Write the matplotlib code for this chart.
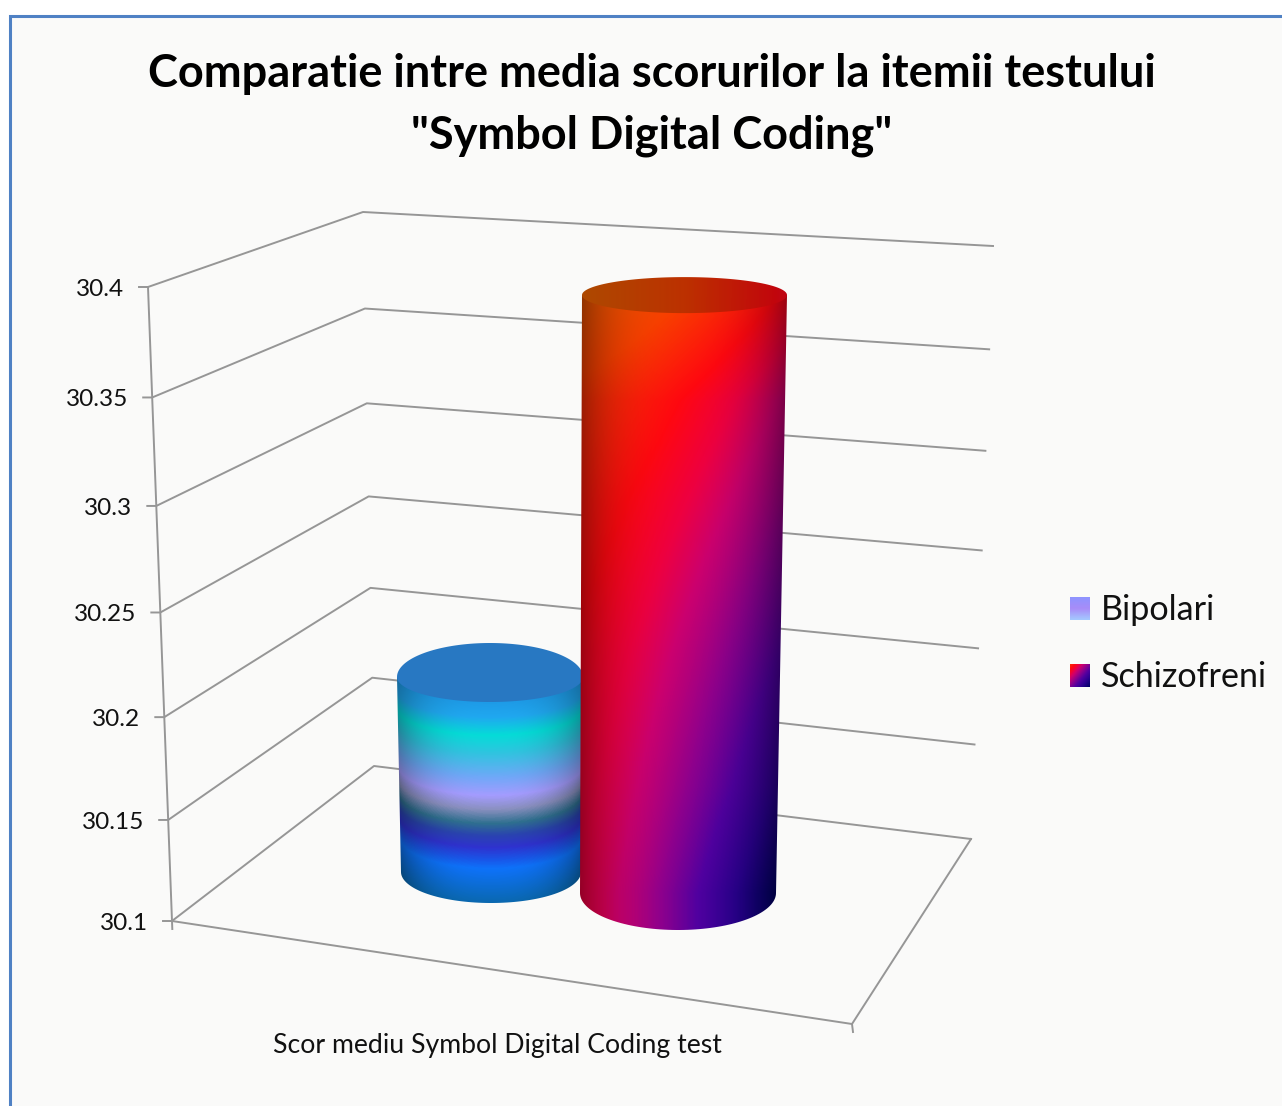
import numpy as np
import matplotlib
matplotlib.use("Agg")
import matplotlib.pyplot as plt
from matplotlib.colors import LinearSegmentedColormap
from matplotlib.patches import Rectangle, PathPatch
from matplotlib.path import Path

plt.rcParams["font.family"] = ["Lato", "DejaVu Sans"]

############### DATA ###############

tick_values = [30.4, 30.35, 30.3, 30.25, 30.2, 30.15, 30.1]
tick_labels = ["30.4", "30.35", "30.3", "30.25", "30.2", "30.15", "30.1"]
series_names = ["Bipolari", "Schizofreni"]
series_values = [30.2, 30.4]
category = "Scor mediu Symbol Digital Coding test"
title_lines = ["Comparatie intre media scorurilor la itemii testului", '"Symbol Digital Coding"']

############### LAYOUT (pixels) ###############

vmin, vmax = 30.1, 30.4
front_left = [(172, 921), (148, 287)]
back_left = [(374, 766), (363, 212)]
back_right = [(971, 839), (993, 246)]
front_right = (852, 1024)

# centre of the base, ellipse radii at base and lid, px per unit
bars = [
    dict(cx=491, cy=872, top_dx=-1, rx0=90, ry0=31, rx1=93, up=34, down=25, scale=1950),
    dict(cx=678, cy=893, top_dx=6.5, rx0=98, ry0=37, rx1=102.5, up=18, down=18, scale=1993),
]

grid_col = "#969696"
bg_col = "#fafaf9"
frame_col = "#4f81c4"
line_w = 1.4

blue_cmap = LinearSegmentedColormap.from_list("blue", [
    (0.0, "#1e9ce8"), (0.07, "#20a8f0"), (0.16, "#05dcd8"), (0.25, "#30c4e0"),
    (0.37, "#70a8f8"), (0.46, "#a49cff"), (0.53, "#8a90c0"), (0.6, "#2f7090"),
    (0.66, "#2a44b0"), (0.72, "#2f32cf"), (0.78, "#1a55e8"), (0.825, "#0e72fa"),
    (1.0, "#0a68b0")])
red_cmap = LinearSegmentedColormap.from_list("red", [
    (0.0, "#e06800"), (0.2, "#f84000"), (0.34, "#ff0810"), (0.42, "#ee0040"),
    (0.49, "#cc006e"), (0.6, "#90008c"), (0.72, "#5000a0"), (0.85, "#2a0090"),
    (1.0, "#000068")])
swatch_cmap = LinearSegmentedColormap.from_list("swatch", ["#8f94ff", "#a88cf8", "#a4c8ff"])

# red gradient position along the left and right edge of the cylinder, by height
red_y = [300, 400, 500, 650, 787, 893]
red_left = [0.10, 0.24, 0.30, 0.36, 0.40, 0.42]
red_right = [0.36, 0.50, 0.58, 0.72, 0.85, 1.0]


def corner(pts, v):
    # the spacing grows slightly towards the top of the box
    s = (v - vmin) / (vmax - vmin)
    w = s / (1 + 0.055 * (1 - s))
    return (pts[0][0] + w * (pts[1][0] - pts[0][0]), pts[0][1] + w * (pts[1][1] - pts[0][1]))


def ellipse_pts(cx, cy, rx, ry, a0, a1, n=80):
    a = np.linspace(a0, a1, n)
    return np.column_stack([cx + rx * np.cos(a), cy + ry * np.sin(a)])


def closed_path(pts):
    codes = [Path.MOVETO] + [Path.LINETO] * (len(pts) - 2) + [Path.CLOSEPOLY]
    return Path(pts, codes)


def draw_image(ax, rgb, x0, x1, y0, y1, path):
    im = ax.imshow(rgb, extent=(x0, x1, y1, y0), origin="upper", aspect="auto",
                   interpolation="bilinear", zorder=3)
    patch = PathPatch(path, transform=ax.transData, fc="none", ec="none")
    ax.add_patch(patch)
    im.set_clip_path(patch)


def draw_bar(ax, bar, value, colour_fn, top_fn):
    cx0, cy0 = bar["cx"], bar["cy"]
    cx1 = cx0 + bar["top_dx"]
    cy1 = cy0 - (value - vmin) * bar["scale"]
    x0 = int(min(cx0 - bar["rx0"], cx1 - bar["rx1"])) - 2
    x1 = int(max(cx0 + bar["rx0"], cx1 + bar["rx1"])) + 3
    y0 = int(cy1 - bar["up"]) - 2
    y1 = int(cy0 + bar["ry0"]) + 3
    xx, yy = np.meshgrid(np.arange(x0, x1) + 0.5, np.arange(y0, y1) + 0.5)

    f = np.clip((yy - cy1) / (cy0 - cy1), 0, 1)
    cx = cx1 + f * (cx0 - cx1)
    rx = bar["rx1"] + f * (bar["rx0"] - bar["rx1"])
    ry = bar["down"] + f * (bar["ry0"] - bar["down"])
    xn = np.clip((xx - cx) / rx, -1, 1)

    base = ellipse_pts(cx0, cy0, bar["rx0"], bar["ry0"], 0, np.pi)
    outline = np.vstack([[(cx1 - bar["rx1"], cy1), (cx1 + bar["rx1"], cy1)], base, [(cx1 - bar["rx1"], cy1)]])
    draw_image(ax, colour_fn(yy, xn, ry, cy0, cy1), x0, x1, y0, y1, closed_path(outline))

    # the lid shows more of its far half on the short bar
    lid = np.vstack([ellipse_pts(cx1, cy1, bar["rx1"], bar["down"], 0, np.pi),
                     ellipse_pts(cx1, cy1, bar["rx1"], bar["up"], np.pi, 2 * np.pi)])
    lid = np.vstack([lid, lid[:1]])
    draw_image(ax, top_fn(yy, xn), x0, x1, y0, y1, closed_path(lid))


def blue_side(yy, xn, ry, cy0, cy1):
    front = np.sqrt(1 - xn ** 2)
    # bands follow the curve of the ellipse
    u = (yy - front * ry - cy1) / (cy0 - cy1)
    rgb = blue_cmap(np.clip(u, 0, 1))[..., :3]
    shade = 1 - 0.32 * np.abs(xn) ** 3
    return rgb * shade[..., None]


def blue_top(yy, xn):
    return np.ones(xn.shape + (3,)) * np.array([0x28, 0x78, 0xc2]) / 255


def red_g(yy, xn):
    xf = ((xn + 1) / 2) ** 1.3
    gl = np.interp(yy, red_y, red_left)
    gr = np.interp(yy, red_y, red_right)
    return gl + xf * (gr - gl)


def red_side(yy, xn, ry, cy0, cy1):
    rgb = red_cmap(np.clip(red_g(yy, xn), 0, 1))[..., :3]
    shade = 1 - 0.38 * np.abs(xn) ** 3
    return rgb * shade[..., None]


def red_top(yy, xn):
    xf = (xn + 1) / 2
    rgb = red_cmap(0.04 + 0.32 * xf)[..., :3]
    return rgb * 0.76


fig = plt.figure(figsize=(12.82, 11.06), dpi=100, facecolor="white")
ax = fig.add_axes([0, 0, 1, 1])
ax.axis("off")

# frame: only the top and left sides fall inside the picture
ax.add_patch(Rectangle((10, 16), 1300, 1120, fc=bg_col, ec=frame_col, lw=2.2, zorder=0))

ax.text(652, 74, title_lines[0], ha="center", va="center", fontsize=32.5, fontweight="bold",
        color="black", zorder=5)
ax.text(652, 136, title_lines[1], ha="center", va="center", fontsize=32.5, fontweight="bold",
        color="black", zorder=5)

# value gridlines on the left wall and the back wall
for v, lab in zip(tick_values, tick_labels):
    fl = corner(front_left, v)
    bl = corner(back_left, v)
    br = corner(back_right, v)
    ax.plot([fl[0] - 9, fl[0], bl[0], br[0]], [fl[1], fl[1], bl[1], br[1]],
            color=grid_col, lw=line_w, zorder=1)
    ax.text(fl[0] - 24, fl[1] + 2.5, lab, ha="right", va="center", fontsize=17.6, color="#111111", zorder=5)

# value axis and floor
top = corner(front_left, vmax)
bot = corner(front_left, vmin)
ax.plot([top[0], bot[0] + 0.3], [top[1], bot[1] + 8], color=grid_col, lw=line_w, zorder=1)
ax.plot([bot[0], front_right[0], back_right[0][0]], [bot[1], front_right[1], back_right[0][1]],
        color=grid_col, lw=line_w, zorder=1)
ax.plot([front_right[0], front_right[0] + 1], [front_right[1], front_right[1] + 8],
        color=grid_col, lw=line_w, zorder=1)

draw_bar(ax, bars[0], series_values[0], blue_side, blue_top)
draw_bar(ax, bars[1], series_values[1], red_side, red_top)

ax.text(497.5, 1045, category, ha="center", va="center", fontsize=19.2, color="#111111", zorder=5)

# legend
grad = swatch_cmap(np.linspace(0, 1, 24))[:, :3].reshape(24, 1, 3)
ax.imshow(grad, extent=(1070, 1090, 620, 597), aspect="auto", zorder=3)
yy, xx = np.mgrid[0:1:24j, 0:1:20j]
ax.imshow(red_cmap(0.26 + 0.37 * xx + 0.37 * yy)[..., :3], extent=(1070, 1090, 687, 664),
          aspect="auto", zorder=3)
ax.text(1101, 610, series_names[0], ha="left", va="center", fontsize=24.6, color="#111111", zorder=5)
ax.text(1101, 677, series_names[1], ha="left", va="center", fontsize=24.6, color="#111111", zorder=5)

ax.set_xlim(0, 1282)
ax.set_ylim(1106, 0)

plt.savefig("out.png", dpi=100, facecolor="white")
